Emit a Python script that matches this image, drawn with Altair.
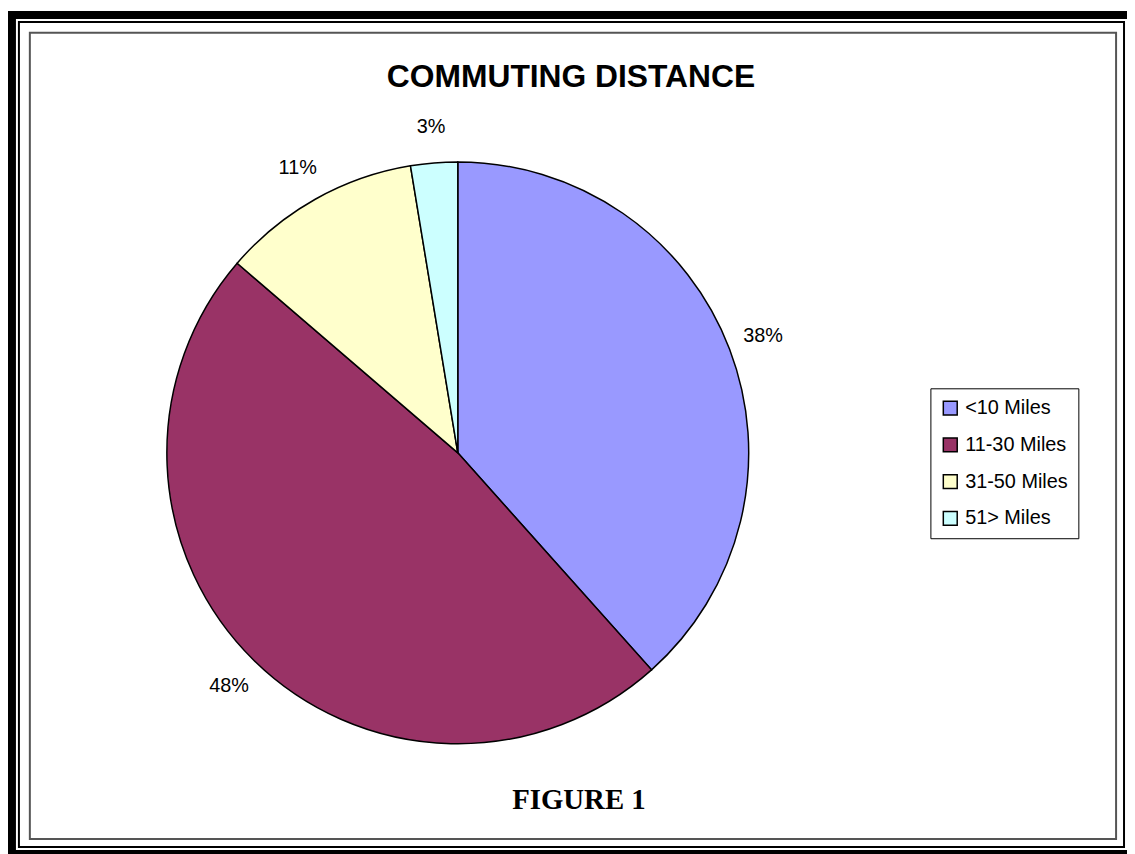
import altair as alt
import pandas as pd

# ---- data ----
categories = ["<10 Miles", "11-30 Miles", "31-50 Miles", "51> Miles"]
shares = [38.4, 47.9, 11.1, 2.6]
labels = ["38%", "48%", "11%", "3%"]
colors = ["#9999FF", "#993366", "#FFFFCC", "#CCFFFF"]
title_text = ["COMMUTING DISTANCE"]
caption_text = ["FIGURE 1"]

# ---- layout (svg pixel coordinates; page offset 8px) ----
W, H = 1127, 846
CX, CY = 449, 442
R = 293

df = pd.DataFrame({
    "category": categories,
    "share": shares,
    "label": labels,
    "order": list(range(len(categories))),
})

base = alt.Chart(df).encode(
    theta=alt.Theta("share:Q", stack=True),
    order=alt.Order("order:Q"),
)

pie = base.mark_arc(outerRadius=R, stroke="black", strokeWidth=1.5).encode(
    x=alt.value(CX),
    y=alt.value(CY),
    color=alt.Color(
        "category:N",
        sort=categories,
        scale=alt.Scale(domain=categories, range=colors),
        legend=alt.Legend(
            orient="none",
            legendX=925,
            legendY=377,
            title=None,
            strokeColor="black",
            fillColor="white",
            padding=10,
            symbolType="square",
            symbolSize=196,
            symbolStrokeColor="black",
            symbolStrokeWidth=1.5,
            labelFontSize=20,
            labelFont="Liberation Sans",
            labelColor="black",
            labelOffset=5,
            rowPadding=17,
        ),
    ),
)

pct = base.mark_text(radius=329, fontSize=20, font="Liberation Sans", color="black").encode(
    x=alt.value(CX),
    y=alt.value(CY),
    text="label:N",
)

title = alt.Chart(pd.DataFrame({"t": title_text})).mark_text(
    fontSize=32, fontWeight="bold", font="Liberation Sans", color="black", baseline="middle"
).encode(x=alt.value(563), y=alt.value(64), text="t:N")

caption = alt.Chart(pd.DataFrame({"t": caption_text})).mark_text(
    fontSize=29, fontWeight="bold", font="Liberation Serif", color="black", baseline="middle"
).encode(x=alt.value(571), y=alt.value(792), text="t:N")

one = alt.Data(values=[{"a": 1}])
frame_outer = alt.Chart(one).mark_rect(fill="transparent", stroke="black", strokeWidth=8).encode(
    x=alt.value(0), x2=alt.value(1127), y=alt.value(1), y2=alt.value(846)
)
frame_thin = alt.Chart(one).mark_rect(fill="transparent", stroke="black", strokeWidth=2).encode(
    x=alt.value(7), x2=alt.value(1120), y=alt.value(8), y2=alt.value(839)
)
frame_inner = alt.Chart(one).mark_rect(fill="transparent", stroke="#555555", strokeWidth=2).encode(
    x=alt.value(18), x2=alt.value(1112), y=alt.value(19), y2=alt.value(831)
)

chart = alt.layer(frame_outer, frame_thin, frame_inner, pie, pct, title, caption).properties(
    width=W,
    height=H,
    padding=0,
    autosize=alt.AutoSizeParams(type="fit", contains="padding"),
    background="white",
).configure_view(strokeWidth=0)

chart.save("out.html", embed_options={"renderer": "svg", "actions": False})
